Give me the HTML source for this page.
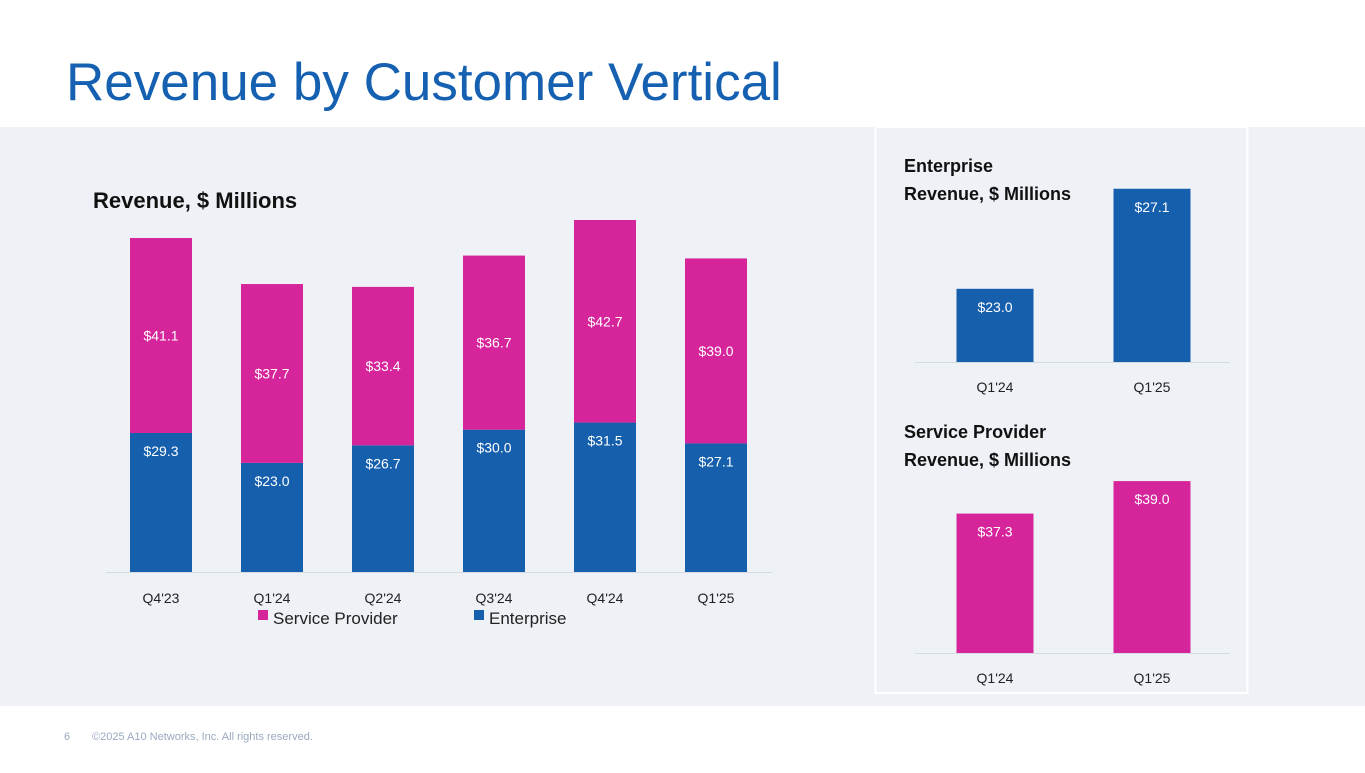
<!DOCTYPE html>
<html><head><meta charset="utf-8"><style>
body{margin:0;width:1365px;height:768px;overflow:hidden;background:#fff;font-family:"Liberation Sans",sans-serif}
svg text{font-family:"Liberation Sans",sans-serif}
</style></head><body>
<svg id="s" width="1365" height="768" viewBox="0 0 1365 768">
<rect x="0" y="127" width="1365" height="579" fill="#eef2f7"/>
<rect x="875.5" y="127" width="372" height="566" fill="none" stroke="#ffffff" stroke-width="2"/>
<text x="66" y="100" font-size="53" fill="#1560b0">Revenue by Customer Vertical</text>
<text x="93" y="208" font-size="22" font-weight="bold" fill="#111">Revenue, $ Millions</text>
<text x="904" y="172" font-size="18" font-weight="bold" fill="#111">Enterprise</text>
<text x="904" y="200" font-size="18" font-weight="bold" fill="#111">Revenue, $ Millions</text>
<text x="904" y="438" font-size="18" font-weight="bold" fill="#111">Service Provider</text>
<text x="904" y="466" font-size="18" font-weight="bold" fill="#111">Revenue, $ Millions</text>
<text x="64" y="740" font-size="11" fill="#9aa9c0">6</text>
<text x="92" y="740" font-size="11" fill="#9aa9c0">©2025 A10 Networks, Inc. All rights reserved.</text>
<g id="main"></g><g id="ent"></g><g id="sp"></g>
<rect x="258" y="610" width="10" height="10" fill="#d6249b"/>
<text x="273" y="624" font-size="17" fill="#222">Service Provider</text>
<rect x="474" y="610" width="10" height="10" fill="#165fad"/>
<text x="489" y="624" font-size="17" fill="#222">Enterprise</text>
</svg>
<script>
const categories=["Q4'23","Q1'24","Q2'24","Q3'24","Q4'24","Q1'25"];
const enterprise=[29.3,23.0,26.7,30.0,31.5,27.1];
const serviceProvider=[41.1,37.7,33.4,36.7,42.7,39.0];
const smallCats=["Q1'24","Q1'25"];
const entSmall=[23.0,27.1];
const spSmall=[37.3,39.0];
const NS="http://www.w3.org/2000/svg";
const BLUE="#165fad",PINK="#d6249b";
function mk(p,t,a,txt){const e=document.createElementNS(NS,t);for(const k in a)e.setAttribute(k,a[k]);if(txt!=null)e.textContent=txt;p.appendChild(e);return e;}
const g=document.getElementById('main');
const base=572,scale=4.744,x0=161,step=111,bw=62;
const y=v=>base-v*scale;
mk(g,'line',{x1:106,x2:772,y1:base+0.5,y2:base+0.5,stroke:"#d6dbe2"});
categories.forEach((c,i)=>{
 const cx=x0+i*step;
 const e=mk(g,'rect',{x:cx-bw/2,y:y(enterprise[i]),width:bw,height:enterprise[i]*scale,fill:BLUE});
 
 
 const s=mk(g,'rect',{x:cx-bw/2,y:y(enterprise[i]+serviceProvider[i]),width:bw,height:serviceProvider[i]*scale,fill:PINK});
 
 
 const t1=mk(g,'text',{x:cx,y:y(enterprise[i])+23,'text-anchor':'middle','font-size':14,fill:'#fff'},'$'+enterprise[i].toFixed(1));
 
 
 const t2=mk(g,'text',{x:cx,y:y(enterprise[i]+serviceProvider[i]/2)+5,'text-anchor':'middle','font-size':14,fill:'#fff'},'$'+serviceProvider[i].toFixed(1));
 
 
 const xl=mk(g,'text',{x:cx,y:603,'text-anchor':'middle','font-size':14,fill:'#222'},c);
 
 
});
function small(id,vals,color,baseY,min,sc,prefix){
 const g=document.getElementById(id);
 mk(g,'line',{x1:915,x2:1230,y1:baseY+0.5,y2:baseY+0.5,stroke:"#d6dbe2"});
 vals.forEach((v,i)=>{
  const cx=995+i*157;
  const h=(v-min)*sc;
  const r=mk(g,'rect',{x:cx-38.5,y:baseY-h,width:77,height:h,fill:color});
  
  
  const t=mk(g,'text',{x:cx,y:baseY-h+23,'text-anchor':'middle','font-size':14,fill:'#fff'},'$'+v.toFixed(1));
  
  
  const xl=mk(g,'text',{x:cx,y:baseY+30,'text-anchor':'middle','font-size':14,fill:'#222'},smallCats[i]);
  
  
 });
}
small('ent',entSmall,BLUE,362,20,24.4,'enterprise');
small('sp',spSmall,PINK,653,30,19.1,'sp');
</script>
</body></html>
